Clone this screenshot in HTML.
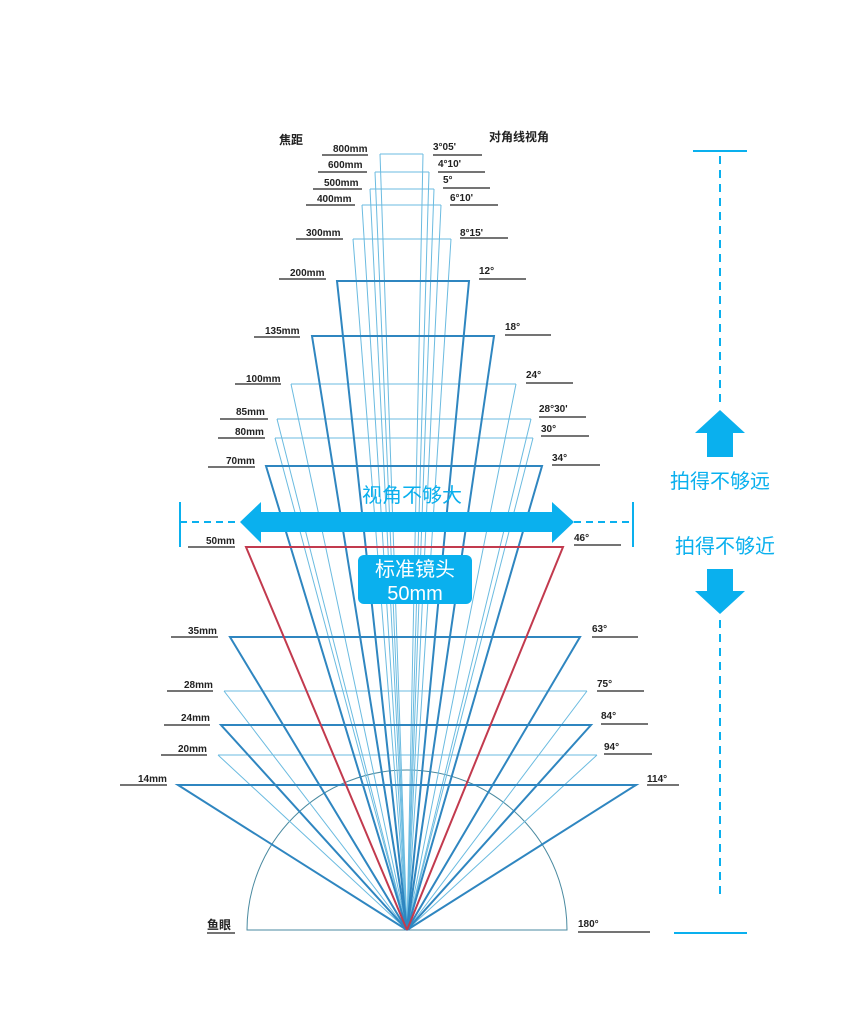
<!DOCTYPE html>
<html><head><meta charset="utf-8"><style>
body{margin:0;background:#fff;}
svg{display:block}
.l{font-family:"Liberation Sans",sans-serif;font-size:10px;fill:#222;font-weight:bold}
.c{font-family:"Liberation Sans","Noto Sans CJK SC",sans-serif;font-weight:bold;font-size:12px;fill:#222}
.b{font-family:"Liberation Sans","Noto Sans CJK SC",sans-serif;font-size:20px;fill:#0ab0ee}
</style></head><body>
<svg width="864" height="1024" viewBox="0 0 864 1024" xmlns="http://www.w3.org/2000/svg">
<g fill="none">
<path d="M247 930 A160 160 0 0 1 567 930 Z" stroke="#4a8aa0" stroke-width="1"/>
<g stroke="#6bbbe0" stroke-width="1">
<polyline points="380,154 423,154"/><path d="M407 930L380 154M407 930L423 154"/>
<polyline points="375,172 429,172"/><path d="M407 930L375 172M407 930L429 172"/>
<polyline points="370,189 434,189"/><path d="M407 930L370 189M407 930L434 189"/>
<polyline points="362,205 441,205"/><path d="M407 930L362 205M407 930L441 205"/>
<polyline points="353,239 451,239"/><path d="M407 930L353 239M407 930L451 239"/>
<polyline points="291,384 516,384"/><path d="M407 930L291 384M407 930L516 384"/>
<polyline points="277,419 531,419"/><path d="M407 930L277 419M407 930L531 419"/>
<polyline points="275,438 533,438"/><path d="M407 930L275 438M407 930L533 438"/>
<polyline points="224,691 587,691"/><path d="M407 930L224 691M407 930L587 691"/>
<polyline points="218,755 597,755"/><path d="M407 930L218 755M407 930L597 755"/>
</g>
<g stroke="#2f86c0" stroke-width="2">
<path d="M407 930L337 281L469 281L407 930"/>
<path d="M407 930L312 336L494 336L407 930"/>
<path d="M407 930L266 466L542 466L407 930"/>
<path d="M407 930L230 637L580 637L407 930"/>
<path d="M407 930L221 725L591 725L407 930"/>
<path d="M407 930L178 785L636 785L407 930"/>
</g>
<path d="M407 930L246 547L563 547L407 930" stroke="#c23a4e" stroke-width="2"/>
<g stroke="#222" stroke-width="1.3">
<path d="M322 155H368M318 172H367M313 189H362M306 205H355M296 239H343M279 279H326M254 337H300M235 384H281M220 419H268M218 438H265M208 467H255M188 547H235M171 637H218M167 691H213M164 725H210M161 755H207M120 785H167M207 933H235"/>
<path d="M433 155H482M438 172H485M443 188H490M450 205H498M460 238H508M479 279H526M505 335H551M526 383H573M539 417H586M541 436H589M552 465H600M574 545H621M592 637H638M597 691H644M601 724H648M604 754H652M647 785H679M578 932H650"/>
</g>
</g>
<g class="l">
<text x="333" y="152">800mm</text><text x="328" y="168">600mm</text><text x="324" y="186">500mm</text><text x="317" y="202">400mm</text>
<text x="306" y="236">300mm</text><text x="290" y="276">200mm</text><text x="265" y="334">135mm</text><text x="246" y="382">100mm</text>
<text x="236" y="415">85mm</text><text x="235" y="435">80mm</text><text x="226" y="464">70mm</text><text x="206" y="544">50mm</text>
<text x="188" y="634">35mm</text><text x="184" y="688">28mm</text><text x="181" y="721">24mm</text><text x="178" y="752">20mm</text><text x="138" y="782">14mm</text>
<text x="433" y="150">3°05'</text><text x="438" y="167">4°10'</text><text x="443" y="183">5°</text><text x="450" y="201">6°10'</text>
<text x="460" y="236">8°15'</text><text x="479" y="274">12°</text><text x="505" y="330">18°</text><text x="526" y="378">24°</text>
<text x="539" y="412">28°30'</text><text x="541" y="432">30°</text><text x="552" y="461">34°</text><text x="574" y="541">46°</text>
<text x="592" y="632">63°</text><text x="597" y="687">75°</text><text x="601" y="719">84°</text><text x="604" y="750">94°</text>
<text x="647" y="782">114°</text><text x="578" y="927">180°</text>
</g>
<text class="c" x="279" y="144">焦距</text>
<text class="c" x="489" y="141">对角线视角</text>
<text class="c" x="207" y="929">鱼眼</text>
<!-- blue annotations -->
<g stroke="#0ab0ee" stroke-width="2" fill="none">
<path d="M180 502V547M633 502V547"/>
<path d="M180 522H240M574 522H633" stroke-dasharray="7,5"/>
<path d="M693 151H747M674 933H747"/>
<path d="M720 156V405M720 620V900" stroke-dasharray="8,6"/>
</g>
<path fill="#0ab0ee" d="M240 522L261 502V512H552V502L574 522L552 543V532H261V543Z"/>
<path fill="#0ab0ee" d="M720 410L745 433H733V457H707V433H695Z"/>
<path fill="#0ab0ee" d="M720 614L745 591H733V569H707V591H695Z"/>
<text class="b" x="412" y="502" text-anchor="middle">视角不够大</text>
<text class="b" x="720" y="488" text-anchor="middle">拍得不够远</text>
<text class="b" x="725" y="553" text-anchor="middle">拍得不够近</text>
<rect x="358" y="555" width="114" height="49" rx="6" fill="#0ab0ee"/>
<text class="b" x="415" y="576" text-anchor="middle" style="fill:#fff">标准镜头</text>
<text class="b" x="415" y="600" text-anchor="middle" style="fill:#fff">50mm</text>
</svg>
</body></html>
